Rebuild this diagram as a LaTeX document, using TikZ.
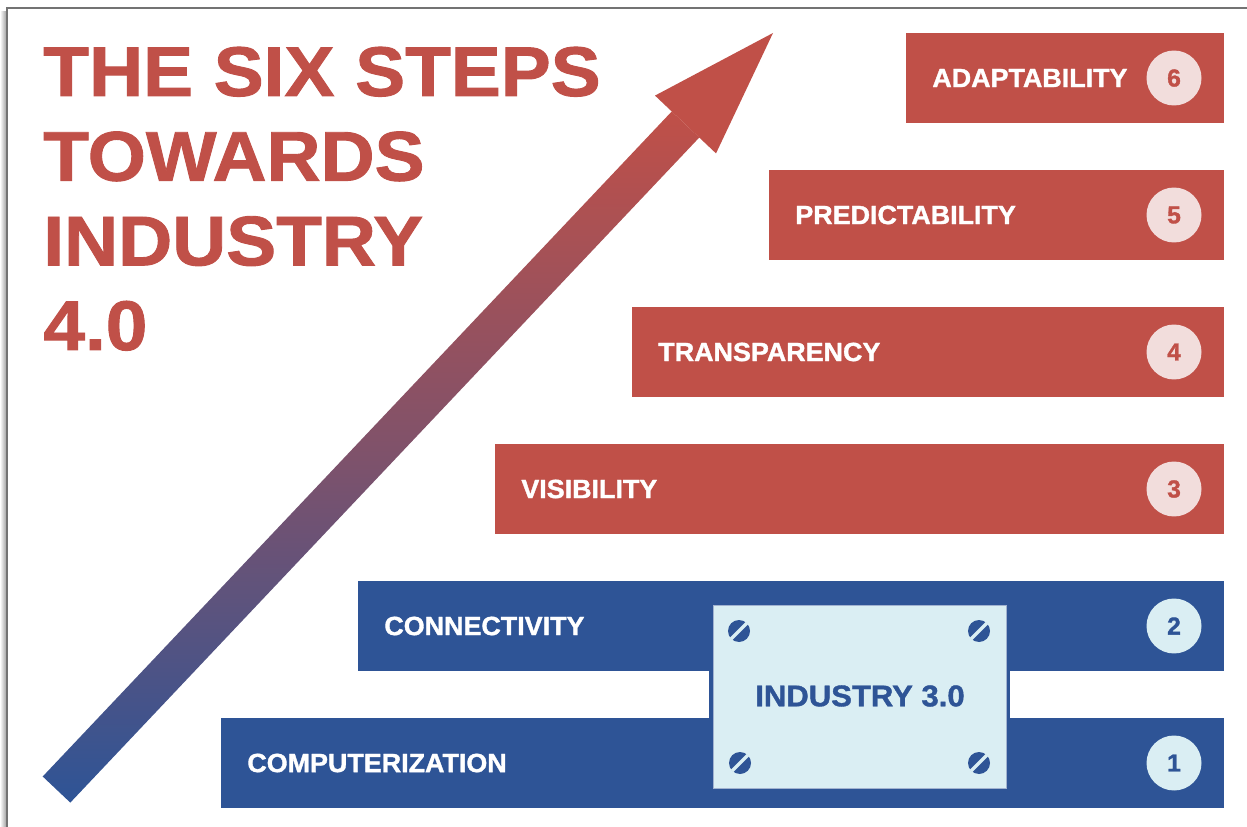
\documentclass[tikz,border=0pt]{standalone}
\usepackage{fontspec}
\setmainfont{Liberation Sans}[BoldFeatures={FakeBold=1.3}]
\usetikzlibrary{positioning}

\definecolor{stepred}{RGB}{192,80,72}
\definecolor{stepblue}{RGB}{46,84,150}
\definecolor{pinkdisc}{RGB}{242,221,220}
\definecolor{icedisc}{RGB}{218,238,243}

\begin{document}
\begin{tikzpicture}[x=0.02cm,y=-0.02cm,
  steplabel/.style={anchor=west,inner sep=0pt,text=white,
    font=\bfseries\fontsize{15}{15}\selectfont\addfontfeature{FakeStretch=1.02}},
  stepnum/.style={circle,inner sep=0pt,minimum size=1.1cm,font=\bfseries\fontsize{14}{14}\selectfont}]
  \useasboundingbox (0,0) rectangle (1247,827);

  % page edge
  \shade[left color=white,right color=black!35] (0,12) rectangle (6,827);
  \draw[black!55,line width=0.04cm] (7,827) -- (7,8.5) -- (1247,8.5);

  % title (base of the last line)
  \node[anchor=base west,align=left,inner sep=0pt,text=stepred,
    font=\bfseries\fontsize{40}{48.2}\selectfont\addfontfeature{FakeStretch=1.065}] (title) at (43,350)
    {THE SIX STEPS\\TOWARDS\\INDUSTRY\\4.0};

  % rising arrow: shaded shaft, red head
  \coordinate (tailA) at (42.7,776.5);
  \coordinate (tailB) at (70.3,802.6);
  \coordinate (notchA) at (671.7,111.5);
  \coordinate (notchB) at (699.3,137.5);
  \coordinate (barbA) at (655,95.6);
  \coordinate (barbB) at (716,153.4);
  \coordinate (tip) at (773,33);
  \shade[top color=stepred,bottom color=stepblue,middle color=stepred!55!stepblue]
    (tailA) -- (notchA) -- (notchB) -- (tailB) -- cycle;
  \fill[stepred] (barbA) -- (tip) -- (barbB) -- cycle;

  % the six bars
  \foreach \n/\x/\name/\col/\disc in {1/221/COMPUTERIZATION/stepblue/icedisc,
      2/358/CONNECTIVITY/stepblue/icedisc,3/495/VISIBILITY/stepred/pinkdisc,
      4/632/TRANSPARENCY/stepred/pinkdisc,5/769/PREDICTABILITY/stepred/pinkdisc,
      6/906/ADAPTABILITY/stepred/pinkdisc}
  {
    \pgfmathsetmacro{\y}{855-137*\n}
    \fill[\col] (\x,\y) rectangle (1224,\y+90);
    \node[steplabel] (label\n) at (\x+26,\y+45) {\name};
    \node[stepnum,fill=\disc,text=\col] (num\n) at (1174,\y+45) {\n};
  }

  % industry 3.0 plate with screws
  \draw[stepblue,line width=0.08cm,fill=icedisc] (711,603) rectangle (1008,790);
  \draw[stepblue!45,line width=0.4pt] (713,605) rectangle (1006,788);
  \node[inner sep=0pt,text=stepblue,
    font=\bfseries\fontsize{17}{17}\selectfont\addfontfeature{FakeStretch=1.04}] (plate) at (860,696) {INDUSTRY 3.0};
  \foreach \sx/\sy in {739/631,979/631,740/763,979/763}
  {
    \fill[stepblue] (\sx,\sy) circle (0.22cm);
    \draw[icedisc,line width=0.07cm] (\sx-8,\sy+8) -- (\sx+8,\sy-8);
  }
\end{tikzpicture}
\end{document}
